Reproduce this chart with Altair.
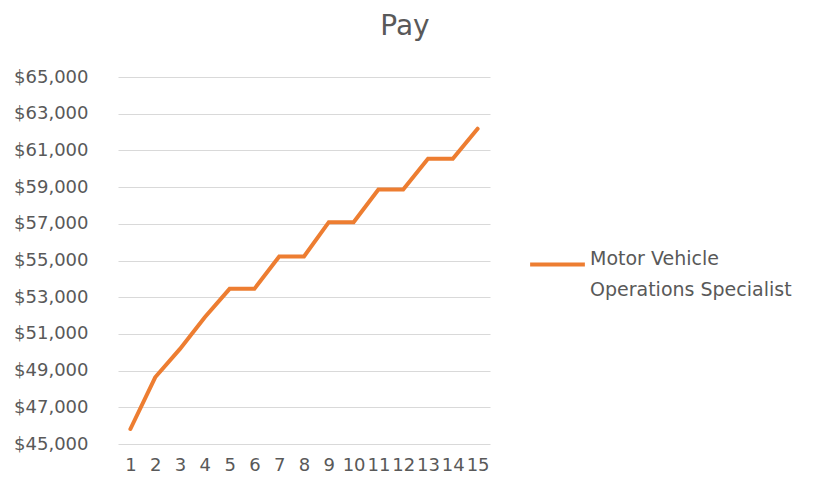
import altair as alt
import pandas as pd

years = list(range(1, 16))
pay = [45818, 48636, 50182, 51909, 53455, 53455, 55218, 55218, 57091, 57091,
       58873, 58873, 60545, 60545, 62182]
series = "Motor Vehicle Operations Specialist"
y_ticks = list(range(45000, 65001, 2000))

df = pd.DataFrame({"year": years, "pay": pay, "series": [series] * len(years)})

FONT = "DejaVu Sans"
GREY = "#595959"
ORANGE = "#ED7D31"

chart = alt.Chart(df).mark_line(strokeWidth=4, strokeCap="round", strokeJoin="miter").encode(
    x=alt.X("year:O", title=None,
            scale=alt.Scale(type="point", padding=0.5),
            axis=alt.Axis(labelAngle=0, ticks=False, domain=False, grid=False,
                          labelFont=FONT, labelFontSize=18, labelColor=GREY,
                          labelPadding=12, labelOverlap=False, labelSeparation=0)),
    y=alt.Y("pay:Q", title=None,
            scale=alt.Scale(domain=[45000, 65000], nice=False, zero=False),
            axis=alt.Axis(values=y_ticks, format="$,.0f", ticks=False, domain=False,
                          grid=True, gridColor="#D9D9D9", gridWidth=1,
                          labelFont=FONT, labelFontSize=18, labelColor=GREY,
                          labelPadding=30)),
    color=alt.Color("series:N", scale=alt.Scale(range=[ORANGE]),
                    legend=alt.Legend(title=None, orient="none", legendX=410, legendY=158,
                                      symbolType="stroke", symbolSize=3000,
                                      symbolStrokeWidth=4, padding=0, labelOffset=3,
                                      labelFont=FONT, labelFontSize=19, labelColor=GREY,
                                      labelBaseline="alphabetic", labelLimit=400,
                                      labelExpr="[slice(datum.label, 0, 13), slice(datum.label, 14)]")),
).properties(
    width=372, height=367,
    title=alt.TitleParams("Pay", font=FONT, fontSize=28, fontWeight="normal", color=GREY,
                          anchor="middle", dx=101, offset=27),
    autosize=alt.AutoSizeParams(type="none"),
    padding={"left": 110, "top": 69, "right": 317, "bottom": 31},
).configure(style={"guide-label": {"lineHeight": 31}}).configure_view(stroke=None)

chart.save("out.html", embed_options={"renderer": "svg", "actions": False})
